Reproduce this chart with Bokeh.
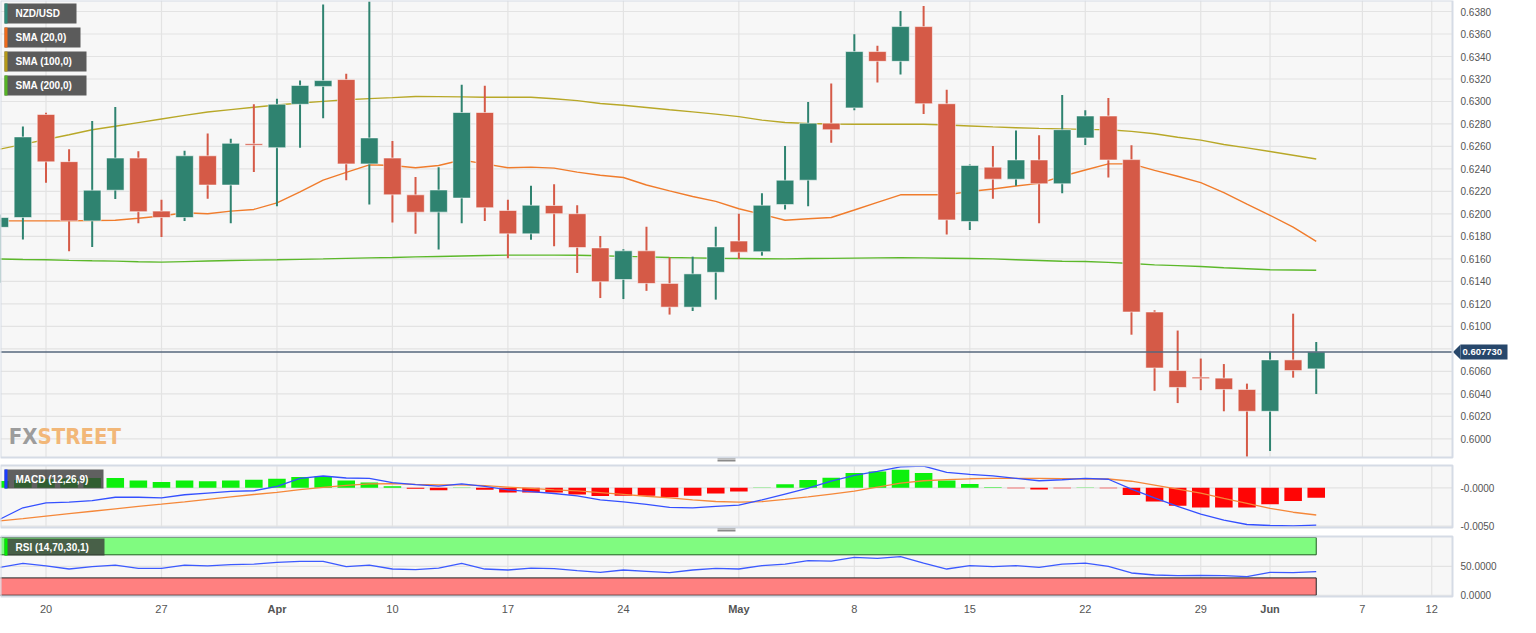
import numpy as np
import pandas as pd
from bokeh.plotting import figure
from bokeh.layouts import column
from bokeh.models import Range1d, ColumnDataSource
from bokeh.embed import file_html
from bokeh.resources import INLINE
from bokeh.core.properties import value

# ---------------- data ----------------
dates = pd.bdate_range("2023-03-16", "2023-06-05")
axis_days = pd.bdate_range("2023-03-16", "2023-06-12")
tick_dates = ["2023-03-20", "2023-03-27", "2023-04-03", "2023-04-10", "2023-04-17", "2023-04-24",
              "2023-05-01", "2023-05-08", "2023-05-15", "2023-05-22", "2023-05-29", "2023-06-01",
              "2023-06-07", "2023-06-12"]
tick_labels = ["20", "27", "Apr", "10", "17", "24", "May", "8", "15", "22", "29", "Jun", "7", "12"]
month_labels = ["Apr", "May", "Jun"]

price_ticks = [round(0.600 + 0.002 * k, 3) for k in range(20)]
macd_ticks = [-0.005, 0.0]
macd_tick_labels = ["-0.0050", "-0.0000"]
rsi_ticks = [0, 50]

open_ = [0.61881, 0.61968, 0.62885, 0.62465, 0.61938, 0.62211, 0.62497, 0.62025, 0.61968, 0.62517,
         0.62257, 0.62624, 0.62589, 0.62975, 0.63134, 0.63195, 0.62445, 0.62497, 0.62170, 0.62016,
         0.62141, 0.62902, 0.62031, 0.61823, 0.62075, 0.62002, 0.61698, 0.61417, 0.61672, 0.61382,
         0.61171, 0.61481, 0.61759, 0.61664, 0.62083, 0.62300, 0.62807, 0.62943, 0.63444, 0.63357,
         0.63666, 0.62980, 0.61933, 0.62416, 0.62309, 0.62480, 0.62268, 0.62676, 0.62871, 0.62483,
         0.61128, 0.60607, 0.60549, 0.60540, 0.60439, 0.60245, 0.60702, 0.60622]
high = [0.61996, 0.62778, 0.62900, 0.62576, 0.62827, 0.62952, 0.62558, 0.62127, 0.62561, 0.62715,
        0.62668, 0.62975, 0.63024, 0.63186, 0.63863, 0.63247, 0.63889, 0.62648, 0.62329, 0.62416,
        0.63149, 0.63140, 0.62127, 0.62251, 0.62263, 0.62077, 0.61803, 0.61686, 0.61886, 0.61614,
        0.61620, 0.61886, 0.62002, 0.62185, 0.62604, 0.62995, 0.63160, 0.63597, 0.63496, 0.63805,
        0.63849, 0.63105, 0.62440, 0.62604, 0.62741, 0.62700, 0.63058, 0.62923, 0.63030, 0.62610,
        0.61143, 0.60963, 0.60714, 0.60665, 0.60491, 0.60775, 0.61113, 0.60861]
low = [0.61389, 0.61773, 0.62277, 0.61669, 0.61707, 0.62133, 0.61918, 0.61794, 0.61938, 0.62135,
       0.61918, 0.62372, 0.62068, 0.62589, 0.62850, 0.62300, 0.62083, 0.61924, 0.61823, 0.61684,
       0.61918, 0.61938, 0.61606, 0.61771, 0.61712, 0.61475, 0.61252, 0.61243, 0.61316, 0.61105,
       0.61137, 0.61238, 0.61599, 0.61629, 0.62040, 0.62068, 0.62633, 0.62923, 0.63169, 0.63241,
       0.62888, 0.61817, 0.61857, 0.62135, 0.62251, 0.61918, 0.62185, 0.62613, 0.62324, 0.60926,
       0.60427, 0.60318, 0.60433, 0.60245, 0.59840, 0.59892, 0.60544, 0.60399]
close = [0.61968, 0.62685, 0.62463, 0.61938, 0.62211, 0.62497, 0.62020, 0.61968, 0.62517, 0.62257,
         0.62628, 0.62610, 0.62975, 0.63143, 0.63186, 0.62445, 0.62676, 0.62170, 0.62016, 0.62213,
         0.62902, 0.62055, 0.61823, 0.62077, 0.62002, 0.61701, 0.61397, 0.61672, 0.61382, 0.61171,
         0.61467, 0.61707, 0.61660, 0.62077, 0.62300, 0.62807, 0.62749, 0.63444, 0.63357, 0.63666,
         0.62980, 0.61947, 0.62431, 0.62309, 0.62480, 0.62268, 0.62749, 0.62871, 0.62480, 0.61128,
         0.60630, 0.60457, 0.60535, 0.60439, 0.60245, 0.60702, 0.60607, 0.60773]

sma20 = [0.61938, 0.61938, 0.61938, 0.61938, 0.61942, 0.61944, 0.61962, 0.61982, 0.62011, 0.62002,
         0.62025, 0.62040, 0.62098, 0.62196, 0.62300, 0.62370, 0.62437, 0.62431, 0.62411, 0.62431,
         0.62480, 0.62445, 0.62411, 0.62416, 0.62407, 0.62372, 0.62344, 0.62324, 0.62257, 0.62205,
         0.62155, 0.62112, 0.62046, 0.61996, 0.61944, 0.61957, 0.61968, 0.62035, 0.62103, 0.62170,
         0.62170, 0.62170, 0.62199, 0.62222, 0.62248, 0.62272, 0.62335, 0.62391, 0.62445, 0.62445,
         0.62387, 0.62335, 0.62279, 0.62190, 0.62088, 0.61988, 0.61883, 0.61756]
sma100 = [0.62576, 0.62618, 0.62662, 0.62704, 0.62749, 0.62780, 0.62812, 0.62844, 0.62876, 0.62906,
          0.62928, 0.62949, 0.62969, 0.62986, 0.63001, 0.63015, 0.63025, 0.63034, 0.63044, 0.63043,
          0.63041, 0.63038, 0.63038, 0.63038, 0.63024, 0.63008, 0.62982, 0.62966, 0.62947, 0.62926,
          0.62908, 0.62888, 0.62865, 0.62834, 0.62813, 0.62804, 0.62800, 0.62798, 0.62798, 0.62798,
          0.62797, 0.62791, 0.62782, 0.62774, 0.62767, 0.62761, 0.62756, 0.62752, 0.62749, 0.62734,
          0.62713, 0.62682, 0.62656, 0.62617, 0.62587, 0.62555, 0.62522, 0.62489]
sma200 = [0.61599, 0.61595, 0.61592, 0.61587, 0.61583, 0.61580, 0.61575, 0.61571, 0.61576, 0.61581,
          0.61586, 0.61589, 0.61592, 0.61596, 0.61600, 0.61605, 0.61609, 0.61613, 0.61618, 0.61622,
          0.61626, 0.61630, 0.61634, 0.61634, 0.61634, 0.61633, 0.61628, 0.61623, 0.61618, 0.61612,
          0.61609, 0.61606, 0.61604, 0.61601, 0.61600, 0.61603, 0.61605, 0.61607, 0.61609, 0.61611,
          0.61609, 0.61606, 0.61603, 0.61600, 0.61593, 0.61586, 0.61579, 0.61577, 0.61569, 0.61559,
          0.61547, 0.61540, 0.61533, 0.61522, 0.61513, 0.61503, 0.61501, 0.61499]

# MACD values in units of 1e-4
macd_e4 = [-41.0, -26.0, -19.6, -18.7, -16.7, -12.3, -12.3, -13.2, -9.0, -6.8, -4.6, -3.8, 1.8, 12.4,
           15.4, 12.8, 12.4, 6.7, 4.1, 2.2, 5.1, 1.8, -2.6, -4.9, -7.4, -10.6, -15.8, -18.3, -21.5,
           -25.4, -26.0, -24.1, -22.6, -15.8, -8.1, -0.4, 8.6, 16.3, 21.4, 27.4, 28.2, 20.1, 17.6,
           15.6, 12.4, 9.2, 10.5, 12.4, 11.2, -1.7, -13.2, -24.1, -34.4, -42.0, -47.8, -49.1, -49.5,
           -48.7]
signal_e4 = [-43.1, -40.1, -36.9, -33.7, -30.5, -27.3, -24.1, -21.3, -18.3, -15.1, -11.9, -8.7, -5.8,
             -2.3, 0.5, 3.1, 5.1, 5.4, 4.5, 3.8, 3.8, 2.8, 0.9, -0.8, -2.7, -4.0, -6.2, -8.5, -11.0,
             -13.2, -15.8, -17.8, -18.7, -18.1, -15.1, -11.9, -8.1, -4.2, 0.9, 6.0, 9.2, 10.8, 11.8,
             12.4, 12.4, 12.4, 12.1, 11.5, 11.5, 8.6, 3.5, -1.7, -6.8, -13.8, -20.3, -26.7, -31.8,
             -35.4]
hist_e4 = [9.0, 10.3, 11.5, 12.0, 12.8, 12.8, 9.7, 7.7, 9.7, 8.5, 9.7, 10.6, 11.9, 14.1, 14.9, 9.7,
           6.8, 2.2, -1.3, -3.2, 0.4, -2.6, -6.0, -6.0, -6.0, -8.6, -10.6, -10.3, -10.3, -12.4, -10.3,
           -7.3, -4.7, 0.3, 4.7, 10.3, 13.2, 19.2, 21.4, 23.5, 19.2, 9.4, 5.1, 0.6, -0.4, -2.2, -0.4,
           0.4, -0.4, -9.4, -17.9, -23.5, -25.6, -25.6, -25.6, -21.4, -17.1, -12.8]
rsi = [48.3, 55.0, 51.0, 45.4, 49.4, 52.3, 46.5, 46.5, 52.3, 51.0, 52.9, 54.0, 56.9, 58.6, 58.6, 49.4,
       52.3, 45.4, 44.3, 47.0, 55.2, 45.4, 43.7, 47.0, 46.0, 42.5, 39.7, 43.7, 41.4, 39.0, 43.7, 46.5,
       45.4, 51.1, 54.0, 59.8, 59.2, 65.5, 63.8, 66.7, 55.7, 45.4, 51.1, 49.4, 51.1, 48.3, 54.0, 55.7,
       50.0, 38.5, 35.0, 34.0, 34.5, 34.0, 32.2, 39.7, 39.0, 40.8]
last_price = 0.607730
rsi_upper, rsi_lower, rsi_max = 70, 30, 100

n = len(dates)
for arr in (open_, high, low, close, sma20, sma100, sma200, macd_e4, signal_e4, hist_e4, rsi):
    assert len(arr) == n, len(arr)

macd_line = [v * 1e-4 for v in macd_e4]
signal_line = [v * 1e-4 for v in signal_e4]
hist = [v * 1e-4 for v in hist_e4]
xs = list(range(n))
tick_pos = [int(axis_days.get_loc(pd.Timestamp(d))) for d in tick_dates]

# ---------------- layout constants ----------------
FONT = value("Liberation Sans")
W = 1520           # whole figure width
FW = 1452          # width of the chart panels (rest is the label column)
X0, X1 = 0.03, 62.9
XE = X0 + (X1 - X0) * W / FW
UP, DOWN = "#2f8370", "#d55a47"
GRID = "#e3e3e3"
PANEL_BG = "#f7f7f7"
OUTLINE = "#d5dbe5"
LABEL_COL = "#555555"

xr = Range1d(X0, XE)


def px2x(px):
    return X0 + px * (X1 - X0) / FW


class Panel:
    def __init__(self, y0, y1, h, pad_top, pad_bottom):
        self.y0, self.y1, self.h = y0, y1, h
        self.per = (y1 - y0) / h
        self.fig = figure(frame_width=W, frame_height=h + pad_top + pad_bottom, x_range=xr,
                          y_range=Range1d(y0 - pad_bottom * self.per, y1 + pad_top * self.per),
                          x_axis_location=None, y_axis_location=None, output_backend="svg",
                          toolbar_location=None, min_border=0, background_fill_color="white",
                          border_fill_color="white", outline_line_color=None)
        self.fig.grid.visible = False

    def py(self, px):
        """y value at a pixel offset below the panel's top edge"""
        return self.y1 - px * self.per

    def base(self, yticks, ylabels):
        f = self.fig
        f.quad(left=[X0], right=[X1], bottom=[self.y0], top=[self.y1], fill_color=PANEL_BG,
               line_color=None)
        f.segment(x0=[X0] * len(yticks), x1=[X1] * len(yticks), y0=yticks, y1=yticks,
                  line_color=GRID, line_width=1.2)
        f.segment(x0=tick_pos, x1=tick_pos, y0=[self.y0] * len(tick_pos),
                  y1=[self.y1] * len(tick_pos), line_color=GRID, line_width=1.2)
        self.ylabels = (yticks, ylabels)

    def finish(self):
        f = self.fig
        f.quad(left=[X0], right=[X1], bottom=[self.y0], top=[self.y1], fill_alpha=0,
               line_color=OUTLINE, line_width=2)
        yt, yl = self.ylabels
        f.text(x=[px2x(FW + 8)] * len(yt), y=yt, text=yl, text_align="left",
               text_baseline="middle", text_color=LABEL_COL, text_font=FONT,
               text_font_size="10px")

    def tag(self, top_px, bottom_px, right_px, text, stripe, fill, alpha):
        f = self.fig
        f.quad(left=[px2x(4)], right=[px2x(right_px)], top=[self.py(top_px)],
               bottom=[self.py(bottom_px)], fill_color=fill, fill_alpha=alpha, line_color=None)
        f.quad(left=[px2x(4)], right=[px2x(7)], top=[self.py(top_px)],
               bottom=[self.py(bottom_px)], fill_color=stripe, line_color=None)
        f.text(x=[px2x(15)], y=[self.py((top_px + bottom_px) / 2)], text=[text],
               text_baseline="middle", text_align="left", text_color="white",
               text_font=FONT, text_font_size="10px", text_font_style="bold")

    def handle(self, below_px):
        ys = [self.py(self.h + below_px + d) for d in (0, 1.5, 3)]
        self.fig.segment(x0=[px2x(FW / 2 - 9)] * 3, x1=[px2x(FW / 2 + 9)] * 3, y0=ys, y1=ys,
                         line_color="#8a8a8a", line_width=1)


# ---------------- main price panel ----------------
main = Panel(0.59834, 0.63898, 457, 0, 5)
p = main.fig
main.base(price_ticks, [("" if abs(t - last_price) < 0.0007 else f"{t:.4f}") for t in price_ticks])

wm_font = value("DejaVu Sans Condensed, Liberation Sans, sans-serif")
wm_base = main.py(446 * main.h / 468)
p.text(x=[px2x(37)], y=[wm_base], text=["FX"], text_align="right", text_baseline="alphabetic",
       text_color="#9c9c9c", text_font=wm_font, text_font_size="22px", text_font_style="bold")
p.text(x=[px2x(37)], y=[wm_base], text=["STREET"], text_align="left",
       text_baseline="alphabetic", text_color="#f2b778", text_font=wm_font,
       text_font_size="22px", text_font_style="bold")

p.line(xs, sma200, line_color="#5cb82a", line_width=1.4)
p.line(xs, sma100, line_color="#b8a828", line_width=1.4)
p.line(xs, sma20, line_color="#f07c2c", line_width=1.4)

up = [c >= o for o, c in zip(open_, close)]
src = ColumnDataSource(dict(
    x=xs, high=high, low=low,
    top=[max(o, c) for o, c in zip(open_, close)],
    bottom=[min(o, c) for o, c in zip(open_, close)],
    color=[UP if u else DOWN for u in up]))
p.segment(x0="x", y0="low", x1="x", y1="high", source=src, line_color="color", line_width=2)
p.vbar(x="x", width=0.76, top="top", bottom="bottom", source=src, fill_color="color",
       line_color="white", line_alpha=0.55, line_width=1)

# last price line and tag
p.segment(x0=[X0], x1=[X1], y0=[last_price], y1=[last_price], line_color="#56677d", line_width=1.5)
half = 7.5 * main.per
p.patch(x=[px2x(FW + 0.5), px2x(FW + 8), px2x(FW + 8)],
        y=[last_price, last_price + half, last_price - half], fill_color="#27476b", line_color=None)
p.quad(left=[px2x(FW + 8)], right=[px2x(FW + 55)], bottom=[last_price - half],
       top=[last_price + half], fill_color="#27476b", line_color=None)
p.text(x=[px2x(FW + 10)], y=[last_price], text=[f"{last_price:.6f}"], text_align="left",
       text_baseline="middle", text_color="white", text_font=FONT, text_font_size="9.5px",
       text_font_style="bold")

main.finish()
legend_items = [("NZD/USD", "#2e8b7a", 76), ("SMA (20,0)", "#f06a1a", 80),
                ("SMA (100,0)", "#b59a18", 86), ("SMA (200,0)", "#55b525", 86)]
for k, (txt, col, rw) in enumerate(legend_items):
    main.tag(3 + 24 * k, 23 + 24 * k, rw, txt, col, "#5b5b5b", 1.0)
main.handle(1.5)

# ---------------- MACD panel ----------------
mp = Panel(-0.00517, 0.00291, 62, 3, 5)
m = mp.fig
mp.base(macd_ticks, macd_tick_labels)
m.vbar(x=xs, width=0.76, top=hist, bottom=0,
       fill_color=["#0df00d" if v >= 0 else "#ff0505" for v in hist], line_color=None)
m.line(xs, signal_line, line_color="#f5883a", line_width=1.3)
m.line(xs, macd_line, line_color="#3450ff", line_width=1.3)
mp.finish()
mp.tag(4, 23, 103, "MACD (12,26,9)", "#1a3cff", "#3a3a3a", 0.8)
mp.handle(1.5)

# ---------------- RSI panel ----------------
rp = Panel(-2.2, 101.7, 60, 4, 22)
r = rp.fig
rp.base(rsi_ticks, [f"{t:.4f}" for t in rsi_ticks])
r.quad(left=[X0 - 1], right=[xs[-1]], top=[rsi_max], bottom=[rsi_upper], fill_color="#80fb80",
       line_color="#1f5f1f", line_width=1)
r.quad(left=[X0 - 1], right=[xs[-1]], top=[rsi_lower], bottom=[0], fill_color="#ff8080",
       line_color="#222222", line_width=1)
r.line(xs, rsi, line_color="#3c5aff", line_width=1.3)
rp.finish()
rp.tag(2, 19, 104, "RSI (14,70,30,1)", "#00ee00", "#3a3a3a", 0.8)

# date labels under the bottom panel
day_pos = [pos for pos, lab in zip(tick_pos, tick_labels) if lab not in month_labels]
day_lab = [lab for lab in tick_labels if lab not in month_labels]
mon_pos = [pos for pos, lab in zip(tick_pos, tick_labels) if lab in month_labels]
mon_lab = [lab for lab in tick_labels if lab in month_labels]
ylab = rp.py(rp.h + 12.5)
r.text(x=day_pos, y=[ylab] * len(day_pos), text=day_lab, text_align="center",
       text_baseline="middle", text_color=LABEL_COL, text_font=FONT, text_font_size="11px")
r.text(x=mon_pos, y=[ylab] * len(mon_pos), text=mon_lab, text_align="center",
       text_baseline="middle", text_color=LABEL_COL, text_font=FONT, text_font_size="11px",
       text_font_style="bold")

layout = column(p, m, r, spacing=0)
open("out.html", "w").write(file_html(layout, INLINE))
